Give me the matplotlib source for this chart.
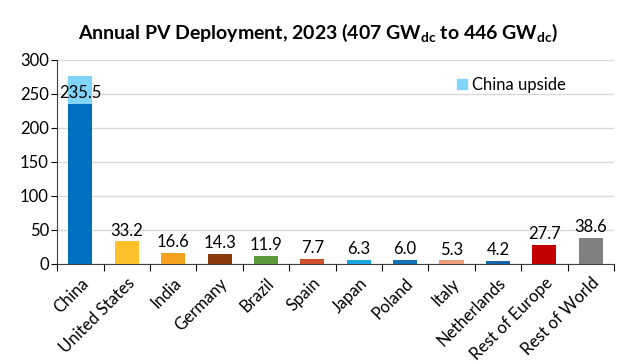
import numpy as np
import matplotlib.pyplot as plt
from matplotlib.patches import Patch

plt.rcParams['font.family'] = ['Lato', 'DejaVu Sans']
plt.rcParams['mathtext.fontset'] = 'custom'
plt.rcParams['mathtext.rm'] = 'Lato'
plt.rcParams['mathtext.bf'] = 'Lato:bold'

# Data
countries = ['China', 'United States', 'India', 'Germany', 'Brazil', 'Spain',
             'Japan', 'Poland', 'Italy', 'Netherlands', 'Rest of Europe', 'Rest of World']
deployment = [235.5, 33.2, 16.6, 14.3, 11.9, 7.7, 6.3, 6.0, 5.3, 4.2, 27.7, 38.6]
china_upside = 41
bar_colors = ['#0070C0', '#FFC12B', '#F4A11F', '#8B3A0E', '#5B9A3B', '#D0502C',
              '#1CA3E3', '#1271B6', '#EE9C7E', '#1566A9', '#C00000', '#808080']
upside_color = '#7FD4F8'

fig = plt.figure(figsize=(6.22, 3.63), dpi=100)
ax = fig.add_axes([0.092, 0.273, 0.895, 0.562])

x = np.arange(len(countries))
ax.bar(x, deployment, width=0.52, color=bar_colors, zorder=3)
ax.bar(x[0], china_upside, bottom=deployment[0], width=0.52, color=upside_color, zorder=3)

# value labels
for xi, v in zip(x, deployment):
    ax.text(xi, v + 4, f'{v:.1f}', ha='center', va='bottom', fontsize=12, zorder=4)

ax.set_xlim(-0.5, len(countries) - 0.5)
ax.set_ylim(0, 300)
ax.set_yticks(np.arange(0, 301, 50))
ax.yaxis.grid(True, color='#D9D9D9', linewidth=1, zorder=0)
ax.tick_params(axis='y', labelsize=12, length=4, width=0.8, pad=2)

ax.set_xticks(x)
ax.set_xticklabels(countries, rotation=45, ha='right', rotation_mode='anchor', fontsize=12)
ax.tick_params(axis='x', which='major', length=0, pad=8)
ax.set_xticks(np.arange(-0.5, len(countries)), minor=True)
ax.tick_params(axis='x', which='minor', length=5, width=0.8)

for s in ['top', 'right']:
    ax.spines[s].set_visible(False)
ax.spines['left'].set_color('#404040')
ax.spines['bottom'].set_color('#404040')

ax.legend(handles=[Patch(color=upside_color, label='China upside')], loc='upper right',
          bbox_to_anchor=(0.94, 0.99), frameon=False, fontsize=12,
          handlelength=0.6, handleheight=0.6, handletextpad=0.3)

fig.suptitle(r'Annual PV Deployment, 2023 (407 GW$_{\mathbf{dc}}$ to 446 GW$_{\mathbf{dc}}$)',
             fontsize=14, fontweight='bold', x=0.512, y=0.94)

fig.savefig('out.png', dpi=100)
